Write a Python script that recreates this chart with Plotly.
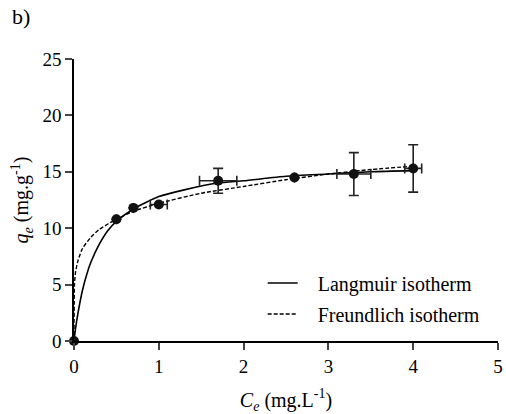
import plotly.graph_objects as go

# Experimental points
ce = [0, 0.5, 0.7, 1.0, 1.7, 2.6, 3.3, 4.0]
qe = [0, 10.8, 11.8, 12.1, 14.2, 14.5, 14.8, 15.3]
ce_err = [0, 0, 0, 0.1, 0.22, 0, 0.2, 0.1]
qe_err = [0, 0, 0, 0, 1.1, 0, 1.9, 2.1]

# Langmuir fitted curve
lang_c = [0, 0.02, 0.05, 0.1, 0.15, 0.2, 0.3, 0.4, 0.5, 0.7, 1.0, 1.3, 1.7, 2.0, 2.5, 3.0, 3.5, 4.0]
lang_q = [0, 1.2, 2.6, 4.5, 5.9, 7.0, 8.6, 9.8, 10.6, 11.7, 12.8, 13.4, 14.0, 14.2, 14.6, 14.8, 15.0, 15.1]

# Freundlich fitted curve
freu_c = [0, 0.005, 0.01, 0.02, 0.05, 0.1, 0.2, 0.3, 0.5, 0.7, 1.0, 1.5, 2.0, 2.5, 3.0, 3.5, 4.0]
freu_q = [0, 4.9, 5.5, 6.2, 7.2, 8.2, 9.2, 9.9, 10.8, 11.5, 12.2, 13.1, 13.7, 14.3, 14.8, 15.2, 15.5]

x_ticks = [0, 1, 2, 3, 4, 5]
y_ticks = [0, 5, 10, 15, 20, 25]

FONT = "Times New Roman, Liberation Serif, serif"
PAD = "\u00a0\u00a0\u00a0"

fig = go.Figure()
fig.add_trace(go.Scatter(
    x=lang_c, y=lang_q, mode="lines", name=PAD + "Langmuir isotherm",
    line=dict(color="black", width=1.6, shape="spline", smoothing=0.6),
    legendgroup="a",
))
fig.add_trace(go.Scatter(
    x=freu_c, y=freu_q, mode="lines", name=PAD + "Freundlich isotherm",
    line=dict(color="black", width=1.4, dash="4px,2px", shape="spline", smoothing=0.6),
    legendgroup="b",
))
fig.add_trace(go.Scatter(
    x=ce, y=qe, mode="markers", showlegend=False,
    marker=dict(color="#111", size=10),
    error_y=dict(type="data", array=qe_err, color="#222", thickness=1.6, width=5),
    error_x=dict(type="data", array=ce_err, color="#222", thickness=1.6, width=5),
    cliponaxis=False,
))

fig.update_layout(
    width=506, height=414,
    margin=dict(l=74, r=8, t=59, b=73),
    plot_bgcolor="white", paper_bgcolor="white",
    font=dict(family=FONT, size=19, color="black"),
    showlegend=True,
    legend=dict(x=0.445, y=0.275, xanchor="left", yanchor="top",
                bgcolor="rgba(0,0,0,0)", font=dict(size=20, family=FONT),
                tracegroupgap=2, itemwidth=30),
    xaxis=dict(range=[0, 5], tickvals=x_ticks, ticks="outside", ticklen=7, tickwidth=1.5,
               showline=True, linecolor="black", linewidth=1.5, showgrid=False, zeroline=False,
               automargin=False,
               title=dict(text="<i>C<sub>e</sub></i> (mg.L<sup>-1</sup>)", standoff=17,
                          font=dict(size=20, family=FONT)),
               tickfont=dict(size=19, family=FONT)),
    yaxis=dict(range=[0, 25], tickvals=y_ticks, ticks="outside", ticklen=7, tickwidth=1.5,
               showline=True, linecolor="black", linewidth=1.5, showgrid=False, zeroline=False,
               automargin=False,
               title=dict(text="<i>q<sub>e</sub></i> (mg.g<sup>-1</sup>)", standoff=8,
                          font=dict(size=20, family=FONT)),
               tickfont=dict(size=19, family=FONT)),
)
fig.add_annotation(text="b)", xref="paper", yref="paper", x=-0.15, y=1.15,
                   xanchor="left", yanchor="middle", showarrow=False,
                   font=dict(size=22, family=FONT))

fig.write_html("out.html")
